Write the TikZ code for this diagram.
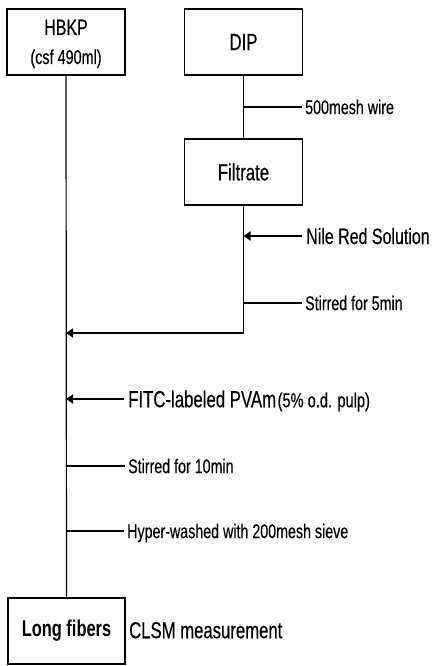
\documentclass[tikz,border=0pt]{standalone}
\usepackage{fontspec}
\setmainfont{Liberation Sans}[FakeStretch=0.72, UprightFeatures={FakeBold=0.4}]
\usetikzlibrary{arrows.meta}
\begin{document}
\begin{tikzpicture}[x=1pt,y=-1pt,
  box/.style={draw=black, line width=1.3pt, minimum width=118pt, minimum height=66pt, inner sep=0pt, align=center},
  lbl/.style={anchor=west, inner xsep=3pt, inner ysep=0pt, text height=14.2pt, text depth=0pt, font=\fontsize{19.8}{22}\selectfont},
  big/.style={font=\fontsize{23}{26}\selectfont, text height=16.5pt},
  vline/.style={line width=1.2pt},
  tick/.style={line width=1.4pt},
  arr/.style={line width=2pt, -{Triangle[length=7pt,width=9pt]}}
]
\useasboundingbox (0,0) rectangle (433,666);
\node[box] (hbkp) at (66,42) {};
\node[anchor=base, inner sep=0pt, font=\fontsize{22.2}{26}\selectfont] (hbkpt) at (hbkp.center |- 0,35) {HBKP};
\node[anchor=base, inner sep=0pt, font=\fontsize{20}{24}\selectfont] (csf) at (hbkp.center |- 0,64) {(csf 490ml)};
\node[box] (dip) at (243.5,42) {\fontsize{23.3}{26}\selectfont DIP};
\node[box] (filt) at (243.5,172) {\fontsize{23.3}{26}\selectfont Filtrate};
\node[box, line width=2.5pt, minimum width=117pt, minimum height=66pt] (long) at (66.5,631) {\fontsize{22.8}{26}\selectfont\bfseries Long fibers};

\node[lbl] (wire) at (302,107) {500mesh wire};
\node[lbl,big,inner xsep=4pt,font=\fontsize{22.2}{26}\selectfont, text height=16pt] (nile) at (302,236) {Nile Red Solution};
\node[lbl] (s5) at (302,303) {Stirred for 5min};
\node[lbl,big,inner xsep=4pt,font=\fontsize{23.3}{26}\selectfont] (fitc) at (124,399) {FITC-labeled PVAm\hspace{1.5pt}{\fontsize{20.3}{22}\selectfont(5\% o.d. pulp)}};
\node[lbl] (s10) at (125,466) {Stirred for 10min};
\node[lbl] (hyper) at (124,531) {Hyper-washed with 200mesh sieve};
\node[lbl,big,inner xsep=0pt,font=\fontsize{23.2}{26}\selectfont] (clsm) at (129,630) {CLSM measurement};

\draw[vline] (hbkp.south) -- (long.north);
\draw[vline] (dip.south) -- (filt.north);
\coordinate (j) at (filt.south |- 0,333);
\draw[vline] (filt.south) -- (j);
\draw[arr] (j) -- (j -| hbkp.south);
\draw[tick] (wire.west -| dip.south) -- (wire.west);
\draw[arr] (nile.west) -- (nile.west -| filt.south);
\draw[tick] (s5.west -| filt.south) -- (s5.west);
\draw[arr] (fitc.west) -- (fitc.west -| hbkp.south);
\draw[tick] (s10.west -| hbkp.south) -- (s10.west);
\draw[tick] (hyper.west -| hbkp.south) -- (hyper.west);
\end{tikzpicture}
\end{document}
